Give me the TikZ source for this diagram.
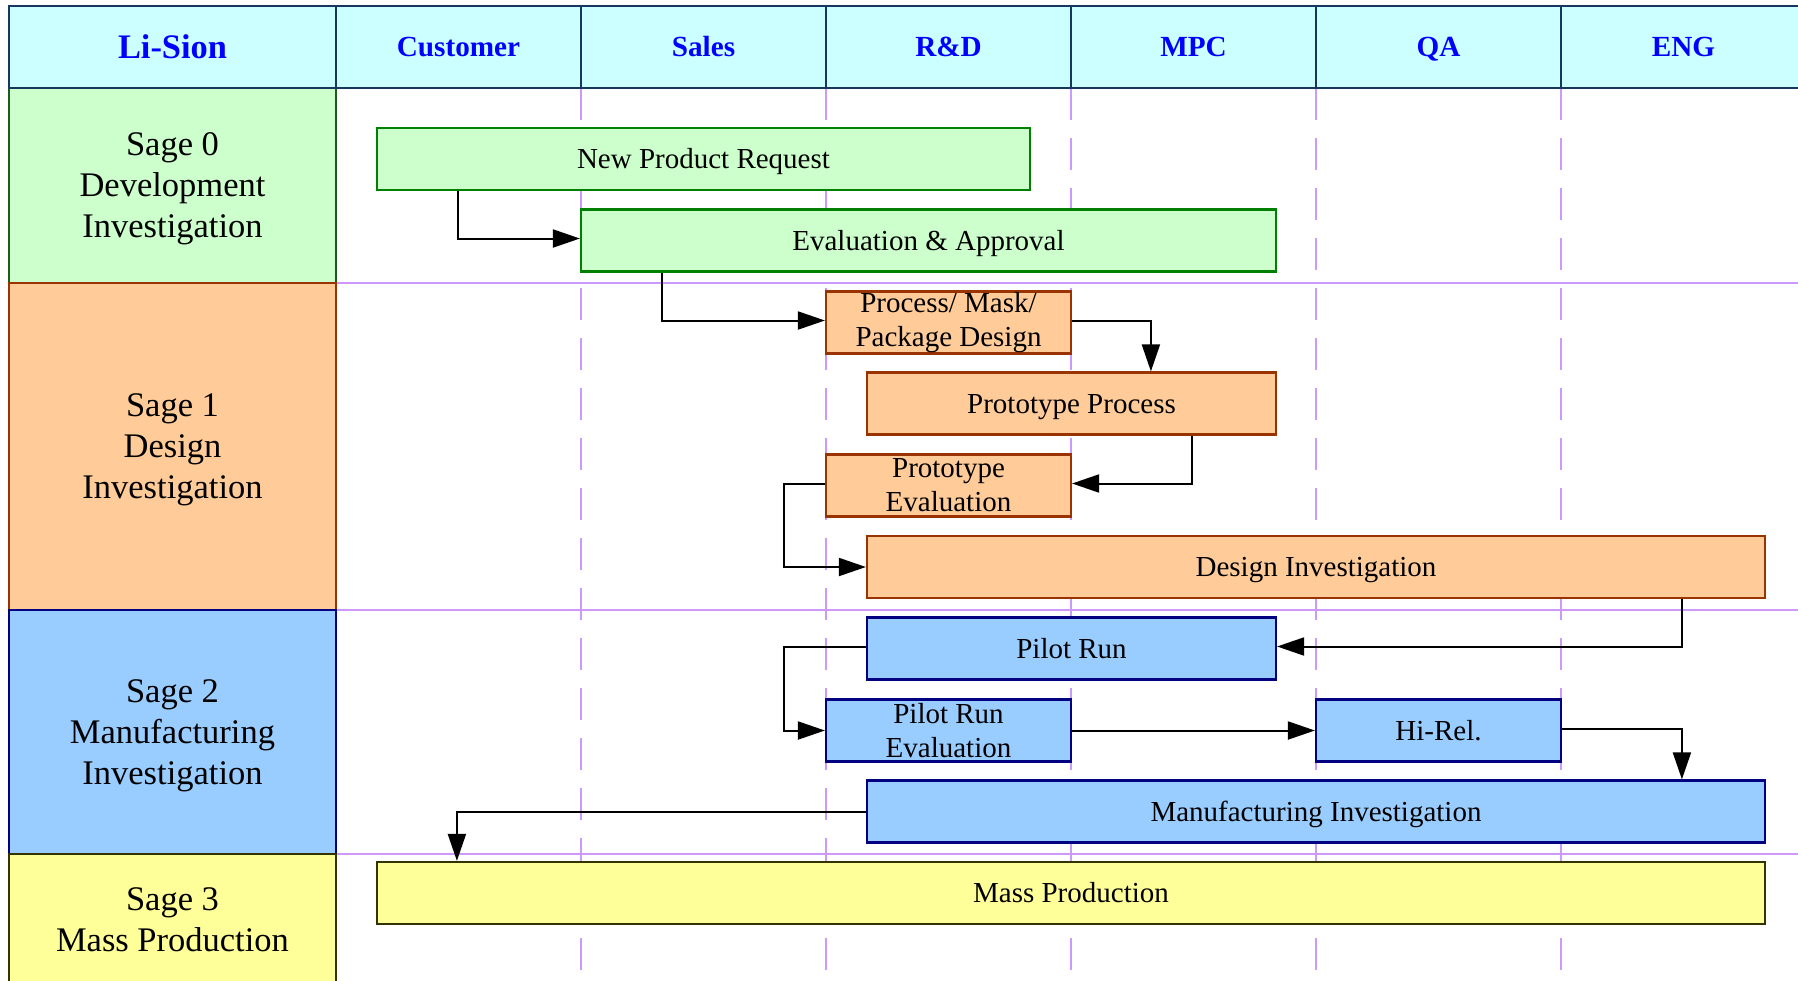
\documentclass[tikz,border=0pt]{standalone}
\usepackage{fontspec}
\setmainfont{Liberation Serif}
\usetikzlibrary{arrows.meta,calc}

\definecolor{hdrfill}{HTML}{CCFFFF}
\definecolor{hdrline}{HTML}{17375E}
\definecolor{hdrtext}{HTML}{0000FF}
\definecolor{grnfill}{HTML}{CCFFCC}
\definecolor{grnline}{HTML}{008000}
\definecolor{grndark}{HTML}{1E5A1E}
\definecolor{orgfill}{HTML}{FFCC99}
\definecolor{orgline}{HTML}{993300}
\definecolor{blufill}{HTML}{99CCFF}
\definecolor{bluline}{HTML}{000080}
\definecolor{ylwfill}{HTML}{FFFF99}
\definecolor{ylwline}{HTML}{333300}
\definecolor{lane}{HTML}{CC99FF}

% two-line caption kept inside a fixed-height task box
\newcommand{\twoline}[2]{\parbox[c][20pt][c]{118pt}{\centering #1\\#2}}

\begin{document}
\begin{tikzpicture}[x=0.5pt,y=-0.5pt,
  hdr/.style={draw=hdrline, line width=1.3pt, fill=hdrfill, minimum height=41pt,
    minimum width=122.5pt, inner sep=0pt, text=hdrtext,
    text height=9.8pt, text depth=0pt,
    font=\fontsize{14.6}{17}\selectfont\bfseries},
  stagecell/.style={line width=1pt, minimum width=163.5pt, inner sep=0pt,
    align=center, text depth=0pt, font=\fontsize{17.25}{20.5}\selectfont},
  taskbox/.style={line width=1.1pt, minimum height=31pt, inner sep=0pt,
    font=\fontsize{14.5}{17}\selectfont},
  oneline/.style={text height=9.7pt, text depth=0pt},
  greentask/.style={taskbox, draw=grnline, fill=grnfill},
  orangetask/.style={taskbox, draw=orgline, fill=orgfill},
  bluetask/.style={taskbox, draw=bluline, fill=blufill},
  yellowtask/.style={taskbox, draw=ylwline, fill=ylwfill},
  flow/.style={draw=black, line width=1pt, -{Triangle[length=13.5pt,width=9pt]}},
  laneline/.style={draw=lane, line width=1pt},
  lanedash/.style={laneline, dash pattern=on 16pt off 9pt},
]
\useasboundingbox (0,0) rectangle (1798,980);
\clip (0,0) rectangle (1798,980);

% swimlane grid
\foreach \lx in {581,826,1071,1316,1561}
  \draw[lanedash] (\lx,88) -- (\lx,990);
\foreach \ly in {283,610,854}
  \draw[laneline] (336,\ly) -- (1800,\ly);

% stage column
\node[stagecell, draw=grndark, fill=grnfill, minimum height=97.5pt] (s0) at (172.5,185.5)
  {Sage 0\\Development\\Investigation};
\node[stagecell, draw=orgline, fill=orgfill, minimum height=163.5pt] (s1) at (172.5,446.5)
  {Sage 1\\Design\\Investigation};
\node[stagecell, draw=bluline, fill=blufill, minimum height=122pt] (s2) at (172.5,732)
  {Sage 2\\Manufacturing\\Investigation};
\node[stagecell, draw=ylwline, fill=ylwfill, minimum height=66pt] (s3) at (172.5,920)
  {Sage 3\\Mass Production};

% header row
\node[hdr, minimum width=163.5pt, text height=11.6pt, font=\fontsize{17.2}{20}\selectfont\bfseries] (h0) at (172.5,47) {Li-Sion};
\node[hdr] (hcust) at (458.5,47) {Customer};
\node[hdr] (hsales) at (703.5,47) {Sales};
\node[hdr] (hrd) at (948.5,47) {R\&D};
\node[hdr] (hmpc) at (1193.5,47) {MPC};
\node[hdr] (hqa) at (1438.5,47) {QA};
\node[hdr] (heng) at (1683.5,47) {ENG};

% tasks
\node[greentask, oneline, minimum width=326.5pt] (npr) at (703.5,159) {New Product Request};
\node[greentask, oneline, minimum width=347.5pt] (eva) at (928.5,240.5) {Evaluation \& Approval};
\node[orangetask, minimum width=122.5pt] (pmp) at (948.5,322.5) {\twoline{Process/ Mask/}{Package Design}};
\node[orangetask, oneline, minimum width=204.5pt] (pp) at (1071.5,403.5) {Prototype Process};
\node[orangetask, minimum width=122.5pt] (pe) at (948.5,485.5) {\twoline{Prototype}{Evaluation}};
\node[orangetask, oneline, minimum width=449pt] (di) at (1316,567) {Design Investigation};
\node[bluetask, oneline, minimum width=204.5pt] (pr) at (1071.5,648.5) {Pilot Run};
\node[bluetask, minimum width=122.5pt] (pre) at (948.5,730.5) {\twoline{Pilot Run}{Evaluation}};
\node[bluetask, oneline, minimum width=122.5pt] (hr) at (1438.5,730.5) {Hi-Rel.};
\node[bluetask, oneline, minimum width=449pt] (mi) at (1316,811.5) {Manufacturing Investigation};
\node[yellowtask, oneline, minimum width=694pt] (mp) at (1071,893) {Mass Production};

% flow
\draw[flow] ($(npr.south west)+(82,0)$) |- ($(eva.west)+(0,-2)$);
\draw[flow] ($(eva.south west)+(82,0)$) |- ($(pmp.west)+(0,-2)$);
\draw[flow] ($(pmp.east)+(0,-2)$) -| ($(pp.north west)+(285,0)$);
\draw[flow] ($(pp.south west)+(326,0)$) |- ($(pe.east)+(0,-2)$);
\draw[flow] ($(pe.west)+(0,-2)$) -- ++(-41,0) |- (di.west);
\draw[flow] ($(di.south west)+(816,0)$) |- ($(pr.east)+(0,-2)$);
\draw[flow] ($(pr.west)+(0,-2)$) -- ++(-82,0) |- (pre.west);
\draw[flow] (pre.east) -- (hr.west);
\draw[flow] ($(hr.east)+(0,-2)$) -| ($(mi.north west)+(816,0)$);
\draw[flow] (mi.west) -| ($(mp.north west)+(81,0)$);
\end{tikzpicture}
\end{document}
